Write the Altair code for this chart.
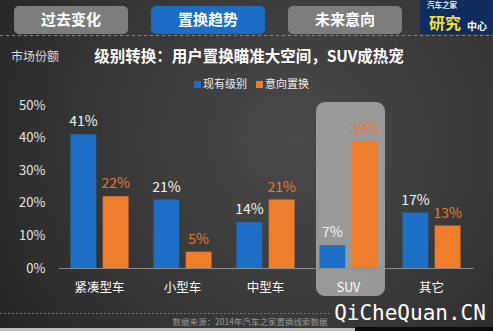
import altair as alt
import pandas as pd

# Chart data: market share by vehicle class (%)
categories = ["紧凑型车", "小型车", "中型车", "SUV", "其它"]
current_share = [41, 21, 14, 7, 17]      # 现有级别
intended_share = [22, 5, 21, 39, 13]     # 意向置换
series_names = ["现有级别", "意向置换"]
y_ticks = [0, 10, 20, 30, 40, 50]

BLUE = "#1c6fc4"
ORANGE = "#ee7d2c"
ORANGE_TEXT = "#e8782f"
FONT = "Noto Sans CJK SC"

rows = []
for c, a, b in zip(categories, current_share, intended_share):
    rows.append({"cat": c, "series": series_names[0], "value": a})
    rows.append({"cat": c, "series": series_names[1], "value": b})
df = pd.DataFrame(rows)

one = pd.DataFrame({"k": [0]})

# plot-area offset inside the 493x331 canvas
OX, OY = 58, 105


def px(x):
    return alt.value(x - OX)


def py(y):
    return alt.value(y - OY)


def box(x1, y1, x2, y2, **kw):
    return alt.Chart(one).mark_rect(**kw).encode(x=px(x1), x2=px(x2), y=py(y1), y2=py(y2))


def label(text, x, y, **kw):
    return alt.Chart(one).mark_text(text=text, font=kw.pop("font", FONT), **kw).encode(x=px(x), y=py(y))


# background with a soft radial glow
bg = box(0, 0, 493, 331, fill=alt.RadialGradient(
    gradient="radial",
    stops=[alt.GradientStop(color="#4a4a4a", offset=0),
           alt.GradientStop(color="#333333", offset=0.6),
           alt.GradientStop(color="#1f1f1f", offset=1)],
    x1=0.6, y1=0.45, x2=0.6, y2=0.45, r1=0, r2=0.8))

# navigation tabs
tabs = alt.layer(
    box(14, 6, 128, 34, fill="#7d7d7d", cornerRadius=5),
    box(151, 6, 265, 34, fill="#1b6ec3", cornerRadius=5),
    box(288, 6, 402, 34, fill="#7d7d7d", cornerRadius=5),
    label("过去变化", 71, 20, fontSize=15, fontWeight="bold", color="white"),
    label("置换趋势", 208, 20, fontSize=15, fontWeight="bold", color="white"),
    label("未来意向", 345, 20, fontSize=15, fontWeight="bold", color="white"),
)

# logo block
logo = alt.layer(
    box(420, 0, 493, 34, fill="#0f2c5e"),
    label("汽车之家", 442, 5.5, fontSize=7.5, color="#e8eef8", fontWeight="bold"),
    label("研究", 445, 24, fontSize=16, fontWeight="bold", color="#f3df3c"),
    label("中心", 477, 27, fontSize=10, color="white", fontWeight="bold"),
)

top_dash = alt.Chart(one).mark_rule(color="#8a8a8a", strokeDash=[3, 3], strokeWidth=1).encode(
    x=px(0), x2=px(493), y=py(35.5))
bottom_dash = alt.Chart(one).mark_rule(color="#777777", strokeDash=[2, 2], strokeWidth=1).encode(
    x=px(0), x2=px(330), y=py(313.5))

titles = alt.layer(
    label("市场份额", 35, 57, fontSize=12, color="#dcdcdc"),
    label("级别转换：用户置换瞄准大空间，SUV成热宠", 249, 57, fontSize=15.5,
          fontWeight="bold", color="white"),
)

# legend
legend = alt.layer(
    box(194, 81, 201, 88, fill=BLUE),
    label("现有级别", 203, 85, fontSize=11, color="#f0f0f0", align="left"),
    box(256, 81, 263, 88, fill=ORANGE),
    label("意向置换", 265, 85, fontSize=11, color="#f0f0f0", align="left"),
)

# highlight box behind the SUV group
highlight = box(316, 102, 385, 296, fill="#a3a3a3", opacity=0.9, cornerRadius=9)

x_enc = alt.X("cat:N", sort=categories, title=None,
              scale=alt.Scale(paddingInner=0.3, paddingOuter=0.15),
              axis=alt.Axis(labelAngle=0, labelColor="white", labelFontSize=12.5,
                            labelFont=FONT, labelPadding=13, ticks=False,
                            domain=True, domainColor="#8c8c8c", domainWidth=1.2,
                            grid=False, zindex=1))
y_enc = alt.Y("value:Q", title=None,
              scale=alt.Scale(domain=[0, 50], nice=False),
              axis=alt.Axis(values=y_ticks, labelExpr="datum.value + '%'",
                            labelColor="#e8e8e8", labelFontSize=13, labelFont=FONT,
                            labelPadding=13, labelOverlap=False, ticks=False,
                            domain=False, grid=False, zindex=1))
xo_enc = alt.XOffset("series:N", sort=series_names,
                     scale=alt.Scale(paddingInner=0.2, paddingOuter=0))

bars = alt.Chart(df).mark_bar().encode(
    x=x_enc, y=y_enc, xOffset=xo_enc,
    color=alt.Color("series:N", scale=alt.Scale(domain=series_names, range=[BLUE, ORANGE]),
                    legend=None),
)

values = alt.Chart(df).transform_calculate(lbl="datum.value + '%'").mark_text(
    baseline="bottom", dy=-5, fontSize=14, font=FONT).encode(
    x=x_enc, y=y_enc, xOffset=xo_enc,
    text="lbl:N",
    color=alt.condition(alt.datum.series == series_names[0],
                        alt.value("#f4f4f4"), alt.value(ORANGE_TEXT)),
)

footer = alt.layer(
    label("数据来源：2014年汽车之家置换线索数据", 250, 322, fontSize=8.5, color="#9a9a9a"),
    box(0, 328, 355, 331, fill="#bdbdbd"),
    box(355, 327, 493, 331, fill="#0a0a0a"),
    label("QiCheQuan.CN", 410, 314, fontSize=21, color="white", font="DejaVu Sans Mono"),
)

chart = alt.layer(
    bg, tabs, logo, top_dash, titles, legend, highlight, bars, values, bottom_dash, footer
).properties(
    width=415, height=163,
    autosize=alt.AutoSizeParams(type="none"),
    padding={"left": OX, "top": OY, "right": 493 - OX - 415, "bottom": 331 - OY - 163},
    background="#2a2a2a",
).configure_view(stroke=None)

chart.save("out.html", embed_options={"renderer": "svg", "actions": False})
